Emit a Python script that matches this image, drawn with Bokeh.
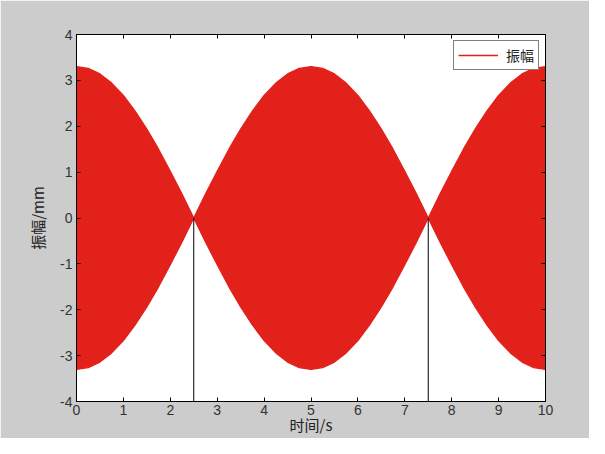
from bokeh.plotting import figure
from bokeh.models import LinearAxis, FixedTicker, Legend, LegendItem, Range1d
from bokeh.embed import file_html
from bokeh.resources import INLINE

# Time axis (s) and envelope amplitude (mm)
t = [0.0, 0.25, 0.5, 0.75, 1.0, 1.25, 1.5, 1.75, 2.0, 2.25, 2.5,
     2.75, 3.0, 3.25, 3.5, 3.75, 4.0, 4.25, 4.5, 4.75, 5.0,
     5.25, 5.5, 5.75, 6.0, 6.25, 6.5, 6.75, 7.0, 7.25, 7.5,
     7.75, 8.0, 8.25, 8.5, 8.75, 9.0, 9.25, 9.5, 9.75, 10.0]
envelope = [3.30, 3.26, 3.14, 2.94, 2.67, 2.33, 1.94, 1.50, 1.02, 0.52, 0.00,
            0.52, 1.02, 1.50, 1.94, 2.33, 2.67, 2.94, 3.14, 3.26, 3.30,
            3.26, 3.14, 2.94, 2.67, 2.33, 1.94, 1.50, 1.02, 0.52, 0.00,
            0.52, 1.02, 1.50, 1.94, 2.33, 2.67, 2.94, 3.14, 3.26, 3.30]
lower = [-v for v in envelope]

# Black marker lines at the nodes
node_x = [2.5, 7.5]
node_y0 = [-4.0, -4.0]
node_y1 = [0.0, 0.0]

x_ticks = [0, 1, 2, 3, 4, 5, 6, 7, 8, 9, 10]
x_tick_labels = ["0", "1", "2", "3", "4", "5", "6", "7", "8", "9", "10"]
y_ticks = [-4, -3, -2, -1, 0, 1, 2, 3, 4]
y_tick_labels = ["-4", "-3", "-2", "-1", "0", "1", "2", "3", "4"]

RED = "#e3211b"
TXT = "#333333"

p = figure(width=589, height=438, output_backend="svg", toolbar_location=None,
           x_range=Range1d(0, 10), y_range=Range1d(-4, 4),
           min_border_left=76, min_border_right=44, min_border_top=34, min_border_bottom=37)
p.border_fill_color = "#cccccc"
p.background_fill_color = "white"
p.outline_line_color = "black"
p.outline_line_width = 1
p.grid.visible = False

p.varea(x=t, y1=lower, y2=envelope, fill_color=RED, fill_alpha=1.0)
sig = p.line(x=t, y=envelope, line_color=RED, line_width=1.3)
p.line(x=t, y=lower, line_color=RED, line_width=1.3)
p.segment(x0=node_x, y0=node_y0, x1=node_x, y1=node_y1, line_color="black", line_width=1)

def style(ax, show_labels=True):
    ax.major_tick_in = 4
    ax.major_tick_out = 0
    ax.minor_tick_in = 0
    ax.minor_tick_out = 0
    ax.axis_line_color = "black"
    ax.major_tick_line_color = "black"
    ax.major_label_text_font = "Liberation Sans"
    ax.major_label_text_font_size = "14px"
    ax.major_label_text_color = TXT
    ax.major_label_standoff = 3
    if not show_labels:
        ax.major_label_text_color = None

xa = p.xaxis[0]
xa.ticker = FixedTicker(ticks=x_ticks)
xa.major_label_overrides = {v: s for v, s in zip(x_ticks, x_tick_labels)}
style(xa)
xa.axis_label = "时间/s"
xa.axis_label_text_font = "Noto Sans CJK SC"
xa.axis_label_text_font_style = "normal"
xa.axis_label_text_font_size = "15px"
xa.axis_label_text_color = "#222222"
xa.axis_label_standoff = -4

ya = p.yaxis[0]
ya.ticker = FixedTicker(ticks=y_ticks)
ya.major_label_overrides = {v: s for v, s in zip(y_ticks, y_tick_labels)}
style(ya)
ya.major_label_standoff = 4
ya.axis_label = "振幅/mm"
ya.axis_label_text_font = "Noto Sans CJK SC"
ya.axis_label_text_font_style = "normal"
ya.axis_label_text_font_size = "15px"
ya.axis_label_text_color = "#222222"
ya.axis_label_standoff = 9

top = LinearAxis(ticker=FixedTicker(ticks=x_ticks))
style(top, False)
p.add_layout(top, "above")
right = LinearAxis(ticker=FixedTicker(ticks=y_ticks))
style(right, False)
p.add_layout(right, "right")

legend = Legend(items=[LegendItem(label="振幅", renderers=[sig])], location="top_right")
legend.label_text_font = "Noto Sans CJK SC"
legend.label_text_font_size = "14px"
legend.label_text_color = "#222222"
legend.border_line_color = "black"
legend.border_line_width = 1
legend.background_fill_color = "white"
legend.background_fill_alpha = 1.0
legend.glyph_width = 40
legend.glyph_height = 14
legend.padding = 4
legend.spacing = 0
legend.margin = 6
legend.label_standoff = 8
p.add_layout(legend, "center")

open("out.html", "w").write(file_html(p, INLINE))
